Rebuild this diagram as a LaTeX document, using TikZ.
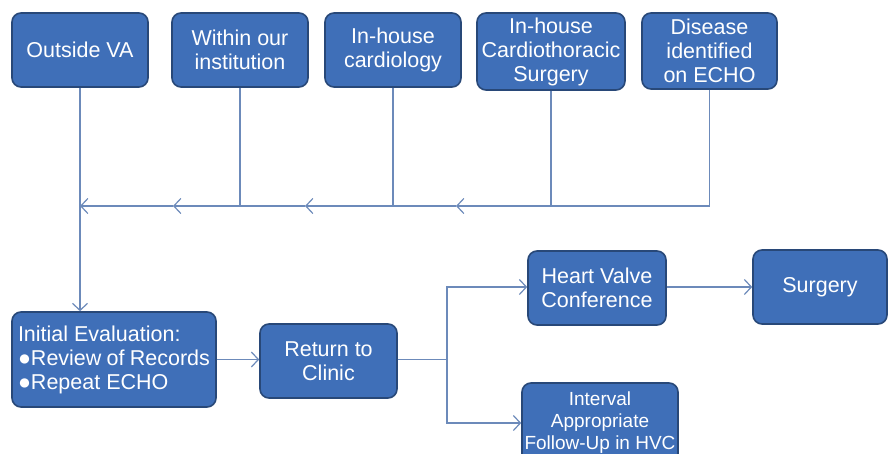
\documentclass[tikz,border=0pt]{standalone}
\usepackage{fontspec}
\setmainfont{Liberation Sans}
\usetikzlibrary{arrows.meta}
\definecolor{boxfill}{RGB}{63,111,184}
\definecolor{boxline}{RGB}{40,72,120}
\definecolor{conn}{RGB}{108,138,186}
\tikzset{
  blk/.style={draw=boxline, line width=1.6pt, fill=boxfill, rounded corners=9pt,
    text=white, align=center, inner sep=0pt,
    font=\fontsize{21.5}{24}\selectfont},
  cline/.style={draw=conn, line width=1.2pt},
  carr/.style={cline, -{Straight Barb[length=7pt,width=15pt,line width=1.2pt]}}
}
\begin{document}
\begin{tikzpicture}[x=1pt,y=-1pt]
\useasboundingbox (0,0) rectangle (888,454);
% top row
\node[blk, minimum width=136pt, minimum height=74pt] (ova) at (80,50) {Outside VA};
\node[blk, minimum width=136pt, minimum height=74pt] (wio) at (240,50) {Within our\\institution};
\node[blk, minimum width=136pt, minimum height=74pt] (ihc) at (393,50) {In-house\\cardiology};
\node[blk, minimum width=148pt, minimum height=77pt] (cts) at (551,51.5) {In-house\\Cardiothoracic\\Surgery};
\node[blk, minimum width=135pt, minimum height=76pt] (dis) at (709.5,51) {Disease\\identified\\on ECHO};
% bottom
\node[blk, minimum width=204pt, minimum height=95pt, align=left] (ie) at (114,359.5)
  {\parbox{192pt}{Initial Evaluation:\\●Review of Records\\●Repeat ECHO}};
\node[blk, minimum width=137pt, minimum height=74pt] (rtc) at (328.5,361) {Return to\\Clinic};
\node[blk, minimum width=138pt, minimum height=74pt] (hvc) at (597,288) {Heart Valve\\Conference};
\node[blk, minimum width=134pt, minimum height=74pt] (sur) at (820,287) {Surgery};
\node[blk, minimum width=156pt, minimum height=80pt, font=\fontsize{19}{22}\selectfont] (int) at (600,423) {Interval\\Appropriate\\Follow-Up in HVC};
% merge line
\coordinate (m0) at (709.5,206);
\coordinate (m1) at (456,206);
\coordinate (m2) at (305,206);
\coordinate (m3) at (173,206);
\coordinate (m4) at (80,206);
\draw[cline] (wio.south) -- (wio.south |- m0);
\draw[cline] (ihc.south) -- (ihc.south |- m0);
\draw[cline] (cts.south) -- (cts.south |- m0);
\draw[cline] (dis.south) -- (m0);
\draw[carr] (m0) -- (m1);
\draw[carr] (m1) -- (m2);
\draw[carr] (m2) -- (m3);
\draw[carr] (m3) -- (m4);
\draw[carr] (ova.south) -- (ova.south |- ie.north);
% bottom connections
\draw[carr] (ie.east) -- (ie.east -| rtc.west);
\coordinate (br) at (447,359.5);
\draw[cline] (ie.east -| rtc.east) -- (br);
\draw[carr] (br) |- (hvc.west |- sur.west);
\draw[carr] (br) |- (int.west);
\draw[carr] (hvc.east |- sur.west) -- (sur.west);
\end{tikzpicture}
\end{document}
